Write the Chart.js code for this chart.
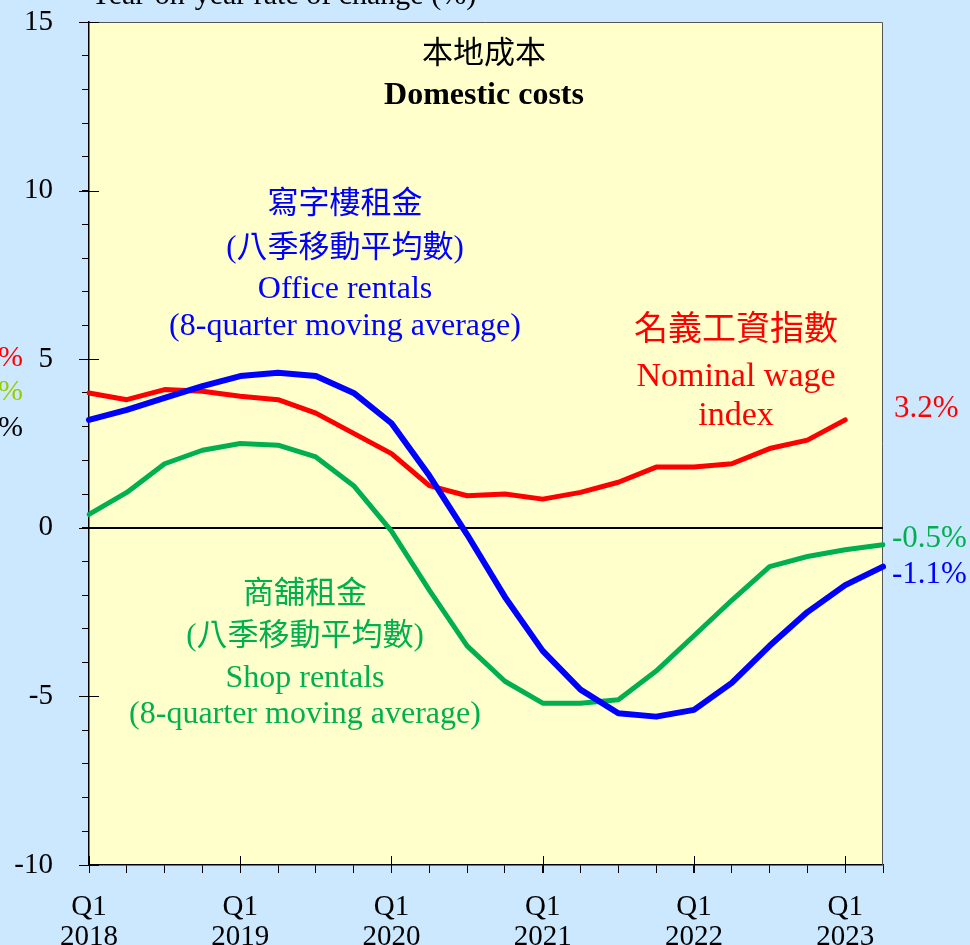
<!DOCTYPE html>
<html>
<head>
<meta charset="utf-8">
<script src="https://cdn.jsdelivr.net/npm/chart.js@4/dist/chart.umd.min.js"></script>
<style>
  body { margin: 0; background: #CCE8FF; }
  canvas { display: block; }
</style>
</head>
<body>
<canvas id="myChart" width="970" height="945"></canvas>
<script>
// quarters, Q1 2018 .. Q2 2023
var quarters = ['2018 Q1','2018 Q2','2018 Q3','2018 Q4',
                '2019 Q1','2019 Q2','2019 Q3','2019 Q4',
                '2020 Q1','2020 Q2','2020 Q3','2020 Q4',
                '2021 Q1','2021 Q2','2021 Q3','2021 Q4',
                '2022 Q1','2022 Q2','2022 Q3','2022 Q4',
                '2023 Q1','2023 Q2'];

// year-on-year rate of change (%)
var officeRentals = [3.2, 3.5, 3.85, 4.2, 4.5, 4.6, 4.5, 4.0, 3.1, 1.55, -0.2,
                     -2.05, -3.65, -4.8, -5.5, -5.6, -5.4, -4.6, -3.5, -2.5, -1.7, -1.15];
var wageIndex = [4.0, 3.8, 4.1, 4.05, 3.9, 3.8, 3.4, 2.8, 2.2, 1.25, 0.95,
                 1.0, 0.85, 1.05, 1.35, 1.8, 1.8, 1.9, 2.35, 2.6, 3.2, null];
var shopRentals = [0.4, 1.05, 1.9, 2.3, 2.5, 2.45, 2.1, 1.25, -0.1, -1.85, -3.5,
                   -4.55, -5.2, -5.2, -5.1, -4.25, -3.2, -2.15, -1.15, -0.85, -0.65, -0.5];

var yTicks = [-10, -5, 0, 5, 10, 15];

var SERIF = '"Liberation Serif", "Times New Roman", "Noto Sans CJK TC", serif';
var RED = '#FF0000', BLUE = '#0000FF', GREEN = '#00B050';

Chart.defaults.font.family = SERIF;
Chart.defaults.font.size = 29;
Chart.defaults.color = '#000';

var decor = {
  id: 'decor',
  beforeDraw: function(chart) {
    var ctx = chart.ctx, a = chart.chartArea;
    ctx.save();
    ctx.fillStyle = '#CCE8FF';
    ctx.fillRect(0, 0, chart.width, chart.height);
    ctx.fillStyle = '#FFFFCC';
    ctx.fillRect(a.left, a.top, a.right - a.left, a.bottom - a.top);
    ctx.restore();
  },
  beforeDatasetsDraw: function(chart) {
    var ctx = chart.ctx, a = chart.chartArea;
    var x = chart.scales.x, y = chart.scales.y;
    ctx.save();
    // frame top/right
    ctx.strokeStyle = '#555';
    ctx.lineWidth = 1;
    ctx.beginPath();
    ctx.moveTo(a.left, a.top + 0.5); ctx.lineTo(a.right - 0.5, a.top + 0.5);
    ctx.lineTo(a.right - 0.5, a.bottom);
    ctx.stroke();
    // zero line
    var y0 = Math.round(y.getPixelForValue(0));
    ctx.strokeStyle = '#000';
    ctx.lineWidth = 2;
    ctx.beginPath();
    ctx.moveTo(a.left, y0); ctx.lineTo(a.right, y0);
    ctx.stroke();
    // major ticks
    ctx.lineWidth = 1;
    yTicks.forEach(function(v) {
      var py = Math.round(y.getPixelForValue(v)) + 0.5;
      ctx.beginPath();
      ctx.moveTo(a.left - 10, py); ctx.lineTo(a.left + 10, py);
      ctx.stroke();
    });
    quarters.forEach(function(q, i) {
      if (i % 4 !== 0) return;
      var px = Math.round(x.getPixelForValue(i)) + 0.5;
      ctx.beginPath();
      ctx.moveTo(px, a.bottom - 9); ctx.lineTo(px, a.bottom + 8);
      ctx.stroke();
    });
    ctx.restore();
  },
  afterDraw: function(chart) {
    var ctx = chart.ctx;
    function txt(s, px, py, color, size, align, bold, base) {
      ctx.font = (bold ? 'bold ' : '') + size + 'px ' + SERIF;
      ctx.fillStyle = color;
      ctx.textAlign = align || 'center';
      ctx.textBaseline = base || 'alphabetic';
      ctx.fillText(s, px, py);
    }
    ctx.save();
    txt('Year-on-year rate of change (%)', 90, 4, '#000', 30, 'left');
    txt('%', 23, 358, RED, 30, 'right', false, 'middle');
    txt('%', 23, 392, '#99CC00', 30, 'right', false, 'middle');
    txt('%', 23, 428, '#000', 30, 'right', false, 'middle');

    txt('本地成本', 484, 55, '#000', 31, 'center', false, 'middle');
    txt('Domestic costs', 484, 104, '#000', 32, 'center', true);

    txt('寫字樓租金', 345, 205, BLUE, 31, 'center', false, 'middle');
    txt('(八季移動平均數)', 345, 249, BLUE, 31, 'center', false, 'middle');
    txt('Office rentals', 345, 298, BLUE, 32);
    txt('(8-quarter moving average)', 345, 335, BLUE, 32);

    txt('名義工資指數', 736, 331, RED, 34, 'center', false, 'middle');
    txt('Nominal wage', 736, 386, RED, 34);
    txt('index', 736, 425, RED, 34);

    txt('商舖租金', 305, 595, GREEN, 31, 'center', false, 'middle');
    txt('(八季移動平均數)', 305, 637, GREEN, 31, 'center', false, 'middle');
    txt('Shop rentals', 305, 687, GREEN, 32);
    txt('(8-quarter moving average)', 305, 723, GREEN, 32);

    txt('3.2%', 894, 417, RED, 31, 'left');
    txt('-0.5%', 892, 547, GREEN, 31, 'left');
    txt('-1.1%', 892, 583, BLUE, 31, 'left');
    ctx.restore();
  }
};

var ctx = document.getElementById('myChart').getContext('2d');
var myChart = new Chart(ctx, {
  type: 'line',
  data: {
    labels: quarters,
    datasets: [
      { label: 'Office rentals', data: officeRentals, borderColor: BLUE, borderWidth: 6 },
      { label: 'Nominal wage index', data: wageIndex, borderColor: RED, borderWidth: 5 },
      { label: 'Shop rentals', data: shopRentals, borderColor: GREEN, borderWidth: 5 }
    ]
  },
  options: {
    responsive: false,
    animation: false,
    devicePixelRatio: 1,
    layout: { padding: { top: 22, right: 87, left: 0, bottom: 0 } },
    elements: {
      point: { radius: 0 },
      line: { tension: 0, borderCapStyle: 'round', borderJoinStyle: 'round', fill: false }
    },
    plugins: { legend: { display: false }, tooltip: { enabled: false } },
    scales: {
      x: {
        offset: false,
        grid: { drawOnChartArea: false, drawTicks: true, tickLength: 8, color: '#000' },
        border: { color: '#000', width: 1.5 },
        ticks: {
          autoSkip: false, maxRotation: 0, padding: 19,
          font: { size: 29, lineHeight: 1.05 },
          callback: function(v, i) {
            var q = quarters[i].split(' ');
            return q[1] === 'Q1' ? [q[1], q[0]] : '';
          }
        },
        afterFit: function(s) { s.height = 80; s.paddingLeft = 0; s.paddingRight = 0; }
      },
      y: {
        min: -10, max: 15,
        grid: { drawOnChartArea: false, drawTicks: true, tickLength: 7, color: '#000' },
        border: { color: '#000', width: 1.5 },
        ticks: {
          stepSize: 1, autoSkip: false, padding: 29,
          callback: function(v) { return yTicks.indexOf(v) >= 0 ? String(v) : ''; }
        },
        afterFit: function(s) { s.width = 89; s.paddingTop = 0; s.paddingBottom = 0; }
      }
    }
  },
  plugins: [decor]
});
</script>
</body>
</html>
